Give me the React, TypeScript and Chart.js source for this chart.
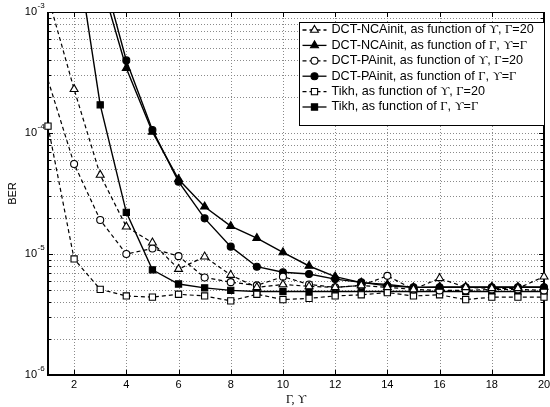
import React, { useEffect, useRef } from 'react';
import { Chart, registerables } from 'chart.js';

Chart.register(...registerables);

// ---------- data ----------
const xValues = [1, 2, 3, 4, 5, 6, 7, 8, 9, 10, 11, 12, 13, 14, 15, 16, 17, 18, 19, 20];

const ncaUps = [1.34e-3, 2.3e-4, 4.5e-5, 1.68e-5, 1.24e-5, 7.5e-6, 9.5e-6, 6.7e-6, 5.3e-6, 5.6e-6, 5.4e-6, 5.3e-6, 5.5e-6, 5.3e-6, 5.1e-6, 6.3e-6, 5.3e-6, 5.2e-6, 5.2e-6, 6.5e-6];
const ncaGam = [null, null, 1.9e-3, 3.43e-4, 1.02e-4, 4.15e-5, 2.46e-5, 1.7e-5, 1.35e-5, 1.03e-5, 7.96e-6, 6.5e-6, 5.8e-6, 5.6e-6, 5.3e-6, 5.35e-6, 5.35e-6, 5.35e-6, 5.35e-6, 5.35e-6];
const paUps = [2.74e-4, 5.55e-5, 1.91e-5, 1.0e-5, 1.11e-5, 9.6e-6, 6.4e-6, 5.85e-6, 5.5e-6, 6.5e-6, 5.6e-6, 5.3e-6, 5.5e-6, 6.6e-6, 5.1e-6, 5.0e-6, 5.0e-6, 5.1e-6, 5.1e-6, 5.0e-6];
const paGam = [null, null, 2.5e-3, 3.98e-4, 1.06e-4, 3.96e-5, 1.97e-5, 1.15e-5, 7.85e-6, 7.06e-6, 6.84e-6, 6.2e-6, 5.83e-6, 5.45e-6, 5.3e-6, 5.3e-6, 5.3e-6, 5.3e-6, 5.3e-6, 5.3e-6];
const tikhUps = [1.14e-4, 9.1e-6, 5.1e-6, 4.5e-6, 4.4e-6, 4.65e-6, 4.5e-6, 4.1e-6, 4.65e-6, 4.2e-6, 4.3e-6, 4.5e-6, 4.6e-6, 4.8e-6, 4.5e-6, 4.6e-6, 4.2e-6, 4.4e-6, 4.4e-6, 4.4e-6];
const tikhGam = [null, 4.4e-3, 1.71e-4, 2.21e-5, 7.4e-6, 5.65e-6, 5.25e-6, 5.0e-6, 4.9e-6, 4.9e-6, 4.9e-6, 4.9e-6, 4.9e-6, 4.9e-6, 4.9e-6, 4.9e-6, 4.9e-6, 4.9e-6, 4.9e-6, 4.9e-6];

const xTicks = [2, 4, 6, 8, 10, 12, 14, 16, 18, 20];
const yExponents = [-6, -5, -4, -3];

const UPS = '\u03D2';
const GAM = '\u0393';

// legend label runs: [text, isSerif]
const legendNcaUps: [string, boolean][] = [['DCT-NCAinit, as function of ', false], [UPS, true], [', ', false], [GAM, true], ['=20', false]];
const legendNcaGam: [string, boolean][] = [['DCT-NCAinit, as function of ', false], [GAM, true], [', ', false], [UPS, true], ['=', false], [GAM, true]];
const legendPaUps: [string, boolean][] = [['DCT-PAinit, as function of ', false], [UPS, true], [', ', false], [GAM, true], ['=20', false]];
const legendPaGam: [string, boolean][] = [['DCT-PAinit, as function of ', false], [GAM, true], [', ', false], [UPS, true], ['=', false], [GAM, true]];
const legendTikhUps: [string, boolean][] = [['Tikh, as function of ', false], [UPS, true], [', ', false], [GAM, true], ['=20', false]];
const legendTikhGam: [string, boolean][] = [['Tikh, as function of ', false], [GAM, true], [', ', false], [UPS, true], ['=', false], [GAM, true]];

const SANS = '"Liberation Sans", Arial, Helvetica, sans-serif';
const SERIF = '"Liberation Serif", "DejaVu Serif", "Times New Roman", serif';

type Marker = 'triangle' | 'circle' | 'rect';
interface Series { values: (number | null)[]; label: [string, boolean][]; marker: Marker; filled: boolean; dashed: boolean; }

const seriesList: Series[] = [
  { values: ncaUps, label: legendNcaUps, marker: 'triangle', filled: false, dashed: true },
  { values: ncaGam, label: legendNcaGam, marker: 'triangle', filled: true, dashed: false },
  { values: paUps, label: legendPaUps, marker: 'circle', filled: false, dashed: true },
  { values: paGam, label: legendPaGam, marker: 'circle', filled: true, dashed: false },
  { values: tikhUps, label: legendTikhUps, marker: 'rect', filled: false, dashed: true },
  { values: tikhGam, label: legendTikhGam, marker: 'rect', filled: true, dashed: false },
];

const RADIUS: Record<Marker, number> = { triangle: 4.6, circle: 3.5, rect: 4.4 };
const DASH = [4, 3];

function drawMarker(ctx: CanvasRenderingContext2D, m: Marker, x: number, y: number, filled: boolean) {
  const r = RADIUS[m];
  ctx.beginPath();
  if (m === 'circle') {
    ctx.arc(x, y, r, 0, Math.PI * 2);
  } else if (m === 'rect') {
    const s = r * Math.SQRT1_2;
    ctx.rect(x - s, y - s, 2 * s, 2 * s);
  } else {
    let rad = 0;
    ctx.moveTo(x + Math.sin(rad) * r, y - Math.cos(rad) * r);
    rad += (2 * Math.PI) / 3;
    ctx.lineTo(x + Math.sin(rad) * r, y - Math.cos(rad) * r);
    rad += (2 * Math.PI) / 3;
    ctx.lineTo(x + Math.sin(rad) * r, y - Math.cos(rad) * r);
    ctx.closePath();
  }
  ctx.fillStyle = filled ? '#000' : '#fff';
  ctx.fill();
  ctx.lineWidth = 1.1;
  ctx.strokeStyle = '#000';
  ctx.stroke();
}

function drawRuns(ctx: CanvasRenderingContext2D, runs: [string, boolean][], x: number, y: number, size: number) {
  let cx = x;
  for (const [t, serif] of runs) {
    ctx.font = `${size}px ${serif ? SERIF : SANS}`;
    ctx.fillText(t, cx, y);
    cx += ctx.measureText(t).width;
  }
}

const matlabPlugin = {
  id: 'matlabAxes',
  beforeDatasetsDraw(chart: any) {
    const { ctx, chartArea: a, scales } = chart;
    const xs = scales.x;
    const ys = scales.y;
    ctx.save();
    // grid
    ctx.strokeStyle = '#8a8a8a';
    ctx.lineWidth = 1;
    ctx.setLineDash([1, 2]);
    for (const t of xTicks) {
      const px = Math.round(xs.getPixelForValue(t)) + 0.5;
      if (px > a.right - 2) continue;
      ctx.beginPath();
      ctx.moveTo(px, a.top);
      ctx.lineTo(px, a.bottom);
      ctx.stroke();
    }
    for (let e = yExponents[0]; e < yExponents[yExponents.length - 1]; e++) {
      for (let k = 1; k <= 9; k++) {
        const v = k * Math.pow(10, e);
        const py = Math.round(ys.getPixelForValue(v)) + 0.5;
        if (py > a.bottom - 2 || py < a.top + 2) continue;
        ctx.beginPath();
        ctx.moveTo(a.left, py);
        ctx.lineTo(a.right, py);
        ctx.stroke();
      }
    }
    ctx.setLineDash([]);
    // box
    ctx.strokeStyle = '#000';
    ctx.lineWidth = 1;
    ctx.strokeRect(a.left + 0.5, a.top + 0.5, a.right - a.left, a.bottom - a.top);
    ctx.lineWidth = 2;
    ctx.beginPath();
    ctx.moveTo(a.left, a.top);
    ctx.lineTo(a.left, a.bottom);
    ctx.lineTo(a.right, a.bottom);
    ctx.lineTo(a.right, a.top);
    ctx.stroke();
    // ticks
    ctx.lineWidth = 1;
    for (const t of xTicks) {
      const px = Math.round(xs.getPixelForValue(t)) + 0.5;
      ctx.beginPath();
      ctx.moveTo(px, a.bottom);
      ctx.lineTo(px, a.bottom - 5);
      ctx.moveTo(px, a.top);
      ctx.lineTo(px, a.top + 5);
      ctx.stroke();
    }
    for (let e = yExponents[0]; e < yExponents[yExponents.length - 1]; e++) {
      for (let k = 1; k <= 9; k++) {
        const v = k * Math.pow(10, e);
        const py = Math.round(ys.getPixelForValue(v)) + 0.5;
        const len = k === 1 ? 5 : 3;
        ctx.beginPath();
        ctx.moveTo(a.left, py);
        ctx.lineTo(a.left + len, py);
        ctx.moveTo(a.right, py);
        ctx.lineTo(a.right - len, py);
        ctx.stroke();
      }
    }
    // tick labels
    ctx.fillStyle = '#000';
    ctx.textBaseline = 'middle';
    ctx.textAlign = 'center';
    ctx.font = `11px ${SANS}`;
    for (const t of xTicks) {
      ctx.fillText(String(t), xs.getPixelForValue(t), a.bottom + 9.5);
    }
    for (const e of yExponents) {
      const py = ys.getPixelForValue(Math.pow(10, e));
      ctx.textAlign = 'right';
      ctx.font = `11px ${SANS}`;
      ctx.fillText('10', a.left - 11, py);
      ctx.textAlign = 'left';
      ctx.font = `8px ${SANS}`;
      ctx.fillText(String(e), a.left - 10.5, py - 6);
    }
    // axis titles
    ctx.textAlign = 'center';
    ctx.font = `12px ${SERIF}`;
    ctx.fillText(`${GAM}, ${UPS}`, (a.left + a.right) / 2, a.bottom + 25);
    ctx.save();
    ctx.translate(13, (a.top + a.bottom) / 2);
    ctx.rotate(-Math.PI / 2);
    ctx.font = `11px ${SANS}`;
    ctx.fillText('BER', 0, 0);
    ctx.restore();
    ctx.restore();
  },
  afterDatasetsDraw(chart: any) {
    const { ctx, chartArea: a } = chart;
    ctx.save();
    const x0 = a.left + 251.5;
    const x1 = a.right + 0.5;
    const y0 = a.top + 10.5;
    const y1 = a.top + 113.5;
    ctx.fillStyle = '#fff';
    ctx.fillRect(x0, y0, x1 - x0, y1 - y0);
    ctx.strokeStyle = '#000';
    ctx.lineWidth = 1;
    ctx.strokeRect(x0, y0, x1 - x0, y1 - y0);
    seriesList.forEach((s, i) => {
      const cy = a.top + 18 + i * 15.4;
      const lx0 = x0 + 3;
      const lx1 = x0 + 27;
      ctx.strokeStyle = '#000';
      ctx.lineWidth = 1.3;
      ctx.setLineDash(s.dashed ? DASH : []);
      ctx.beginPath();
      ctx.moveTo(lx0, cy);
      ctx.lineTo(lx1, cy);
      ctx.stroke();
      ctx.setLineDash([]);
      drawMarker(ctx, s.marker, (lx0 + lx1) / 2, cy, s.filled);
      ctx.fillStyle = '#000';
      ctx.textAlign = 'left';
      ctx.textBaseline = 'middle';
      drawRuns(ctx, s.label, x0 + 32, cy, 12.6);
    });
    ctx.restore();
  },
};

export default function App() {
  const canvasRef = useRef<HTMLCanvasElement | null>(null);

  useEffect(() => {
    const canvas = canvasRef.current;
    if (!canvas) return;
    const datasets = seriesList.map((s) => ({
      data: xValues.map((xv, i) => ({ x: xv, y: s.values[i] })),
      borderColor: '#000',
      borderWidth: s.dashed ? 1.2 : 1.4,
      borderDash: s.dashed ? DASH : [],
      pointStyle: s.marker,
      pointRadius: s.marker === 'circle' && !s.filled ? xValues.map((xv) => (xv === 1 ? 0 : RADIUS.circle)) : RADIUS[s.marker],
      pointHoverRadius: RADIUS[s.marker],
      pointBorderWidth: 1.1,
      pointBorderColor: '#000',
      pointBackgroundColor: s.filled ? '#000' : '#fff',
      fill: false,
      tension: 0,
      spanGaps: false,
      clip: { left: 6, right: 6, top: 0, bottom: 0 },
    }));
    const chart = new Chart(canvas, {
      type: 'line',
      data: { datasets: datasets as any },
      options: {
        responsive: false,
        devicePixelRatio: 1,
        animation: false,
        parsing: false as any,
        normalized: true,
        layout: { padding: { left: 48, right: 6, top: 12, bottom: 32 } },
        plugins: { legend: { display: false }, tooltip: { enabled: false } },
        events: [],
        scales: {
          x: { type: 'linear', min: 1, max: 20, display: false },
          y: { type: 'logarithmic', min: 1e-6, max: 1e-3, display: false },
        },
      },
      plugins: [matlabPlugin as any],
    });
    return () => chart.destroy();
  }, []);

  return (
    <div style={{ position: 'fixed', left: 0, top: 0, width: 550, height: 407, background: '#fff' }}>
      <canvas ref={canvasRef} width={550} height={407} style={{ display: 'block', width: 550, height: 407 }} />
    </div>
  );
}
